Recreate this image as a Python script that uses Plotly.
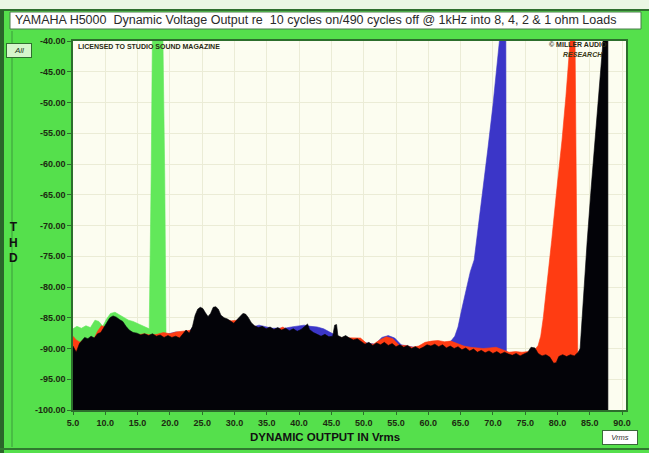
import plotly.graph_objects as go

# ---- data -------------------------------------------------------------
TITLE = ("YAMAHA H5000  Dynamic Voltage Output re  10 cycles on/490 cycles off "
         "@ 1kHz into 8, 4, 2 & 1 ohm Loads")
X_TITLE = "DYNAMIC OUTPUT IN Vrms"

X_TICKS = [5, 10, 15, 20, 25, 30, 35, 40, 45, 50, 55, 60, 65, 70, 75, 80, 85, 90]
Y_TICKS = [-100, -95, -90, -85, -80, -75, -70, -65, -60, -55, -50, -45, -40]
Y_FLOOR = -100

# 1 ohm load (green)
green_x = [5.0, 5.6, 6.3, 7.0, 7.7, 8.4, 9.0, 9.6, 10.2, 10.8, 11.5, 12.2, 12.9,
           13.6, 14.3, 15.0, 15.7, 16.4, 16.8, 17.1, 17.3, 18.9, 19.2, 19.4]
green_y = [-86.8, -86.4, -86.7, -86.3, -86.6, -85.4, -85.6, -86.4, -85.2, -84.3,
           -84.1, -84.5, -85.0, -85.4, -85.6, -85.9, -86.2, -86.5, -86.8, -62.0,
           -38.0, -38.0, -62.0, -88.0]

# 2 ohm load (blue)
blue_x = [5.0, 6.0, 7.0, 8.0, 9.0, 10.0, 11.0, 12.0, 13.0, 14.0, 15.0, 16.0, 17.0,
          18.0, 19.0, 20.0, 21.0, 22.0, 23.0, 24.0, 25.0, 26.0, 27.0, 28.0, 29.0,
          30.0, 31.0, 32.0, 32.8, 33.8, 34.8, 35.8, 36.8, 37.8, 38.8, 39.8, 40.8,
          41.8, 42.8, 43.8, 44.8, 45.8, 46.8, 47.8, 48.8, 49.8, 50.8, 51.8, 52.8,
          53.8, 54.8, 55.8, 56.8, 57.8, 58.8, 59.8, 60.8, 61.8, 62.8, 63.5, 64.1,
          64.6, 65.2, 65.9, 66.5, 67.1, 68.2, 69.2, 70.0, 70.8, 71.2, 72.0, 72.1]
blue_y = [-89.5, -89.2, -88.6, -88.5, -87.8, -87.0, -85.8, -85.6, -86.6, -87.4,
          -87.8, -87.8, -88.0, -88.0, -87.8, -87.6, -87.3, -87.4, -87.2, -86.0,
          -85.0, -85.0, -85.0, -85.4, -85.8, -86.0, -85.2, -85.4, -86.5, -86.2,
          -86.5, -86.7, -86.7, -86.7, -86.5, -86.3, -86.2, -86.4, -86.5, -86.8,
          -87.4, -88.0, -88.5, -88.6, -88.7, -89.0, -89.2, -89.3, -88.2, -87.9,
          -88.3, -89.4, -89.6, -89.8, -89.7, -89.6, -89.3, -89.4, -89.1, -88.8,
          -88.0, -86.5, -83.5, -80.0, -77.5, -75.6, -66.5, -57.7, -50.5, -43.0,
          -38.0, -38.0, -91.0]

# 4 ohm load (red)
red_x = [5.0, 5.5, 6.1, 6.8, 7.5, 8.2, 8.8, 9.4, 10.0, 10.6, 11.3, 12.0, 13.0,
         14.0, 15.0, 16.0, 17.0, 18.0, 19.0, 20.0, 21.0, 21.8, 22.5, 23.5, 24.5,
         25.5, 26.5, 27.5, 28.5, 29.5, 30.5, 31.5, 32.5, 33.5, 34.5, 35.5, 36.5,
         37.5, 38.5, 39.5, 40.5, 41.5, 42.5, 43.5, 44.5, 45.5, 46.5, 47.5, 48.5,
         49.5, 50.5, 51.5, 52.5, 53.5, 54.5, 55.5, 56.5, 57.5, 58.5, 59.5, 60.5,
         61.5, 62.5, 63.5, 64.5, 65.5, 66.5, 67.5, 68.5, 69.5, 70.5, 71.5, 72.5,
         73.5, 74.5, 75.5, 76.5, 77.0, 77.4, 77.8, 78.4, 79.1, 79.9, 80.7, 81.3,
         81.8, 82.1, 82.7, 83.2]
red_y = [-88.0, -88.6, -89.0, -88.4, -88.8, -88.5, -87.2, -86.3, -86.5, -86.0,
         -85.8, -86.2, -87.0, -87.5, -87.8, -87.6, -87.8, -87.7, -87.4, -87.6,
         -87.3, -87.2, -87.2, -87.0, -86.0, -85.5, -85.3, -85.0, -85.3, -85.5,
         -85.4, -85.2, -86.0, -86.6, -86.8, -86.9, -87.0, -86.5, -87.3, -87.4,
         -87.4, -87.5, -87.8, -88.1, -88.2, -88.2, -88.3, -88.2, -88.3, -88.3,
         -89.2, -89.3, -88.6, -88.1, -88.4, -89.5, -89.5, -89.8, -89.6, -89.0,
         -88.8, -88.7, -88.9, -88.8, -89.2, -89.6, -89.8, -89.9, -90.0, -89.9,
         -89.8, -90.2, -90.6, -90.5, -90.6, -90.5, -90.2, -89.5, -88.0, -85.0,
         -79.5, -72.4, -64.0, -56.1, -49.0, -43.1, -38.0, -38.0, -91.0]

# 8 ohm load (black)
black_x = [5.0, 5.5, 6.0, 6.8, 7.3, 7.8, 8.3, 8.8, 9.3, 9.8, 10.3, 10.7, 11.2,
           11.7, 12.2, 12.7, 13.2, 13.7, 14.3, 14.9, 15.5, 16.1, 16.7, 17.3, 17.9,
           18.5, 19.1, 19.7, 20.3, 20.9, 21.5, 22.0, 22.5, 23.0, 23.5, 23.9, 24.3,
           24.7, 25.1, 25.5, 25.9, 26.3, 26.7, 27.1, 27.5, 27.9, 28.4, 28.9, 29.4,
           29.9, 30.4, 30.9, 31.3, 31.7, 32.1, 32.6, 33.1, 33.7, 34.3, 34.9, 35.5,
           36.1, 36.7, 37.3, 37.9, 38.5, 39.1, 39.7, 40.3, 40.9, 41.3, 41.6, 42.2,
           42.8, 43.4, 44.0, 44.6, 45.2, 45.5, 45.8, 46.0, 46.6, 47.2, 47.8, 48.4,
           49.0, 49.6, 50.2, 50.8, 51.4, 52.0, 52.6, 53.2, 53.8, 54.4, 55.0, 55.6,
           56.2, 56.8, 57.4, 58.0, 58.6, 59.2, 59.8, 60.4, 61.0, 61.6, 62.2, 62.8,
           63.4, 64.0, 64.6, 65.2, 65.8, 66.4, 67.0, 67.6, 68.2, 68.8, 69.4, 70.0,
           70.6, 71.2, 71.8, 72.4, 73.0, 73.6, 74.2, 74.8, 75.4, 75.9, 76.5, 77.0,
           77.6, 78.2, 78.8, 79.4, 79.8, 80.2, 80.8, 81.4, 82.0, 82.6, 83.2, 83.5,
           84.0, 84.6, 85.2, 85.8, 86.4, 86.9, 87.2, 87.8]
black_y = [-89.6, -90.6, -89.2, -88.2, -88.4, -88.0, -88.3, -87.6, -87.4, -86.6,
           -85.6, -85.0, -84.7, -84.9, -85.3, -85.6, -86.4, -87.0, -87.4, -87.5,
           -87.8, -87.6, -87.9, -87.6, -88.0, -87.8, -88.2, -87.9, -88.2, -88.0,
           -88.3, -87.6, -87.0, -87.5, -86.4, -84.6, -83.6, -83.3, -83.5, -84.2,
           -84.8, -84.3, -83.3, -83.2, -83.6, -84.6, -85.0, -85.2, -85.6, -85.9,
           -85.3, -84.8, -84.3, -84.4, -84.9, -85.8, -86.3, -86.6, -86.4, -86.8,
           -86.5, -86.9, -86.6, -87.0, -86.7, -87.1, -86.8, -87.2, -86.9, -86.4,
           -86.0, -86.9, -87.4, -87.7, -88.0, -87.7, -88.1, -88.0, -86.2, -86.1,
           -87.9, -88.2, -87.9, -88.3, -88.6, -88.4, -88.9, -89.3, -89.0, -89.5,
           -89.1, -89.4, -89.0, -89.5, -89.2, -89.7, -89.4, -89.8, -89.5, -90.0,
           -89.7, -90.1, -89.8, -89.4, -89.6, -89.3, -89.7, -89.4, -89.9, -89.6,
           -90.0, -89.7, -90.2, -89.9, -90.4, -90.1, -90.6, -90.3, -90.7, -90.4,
           -90.8, -90.5, -90.9, -90.6, -90.9, -91.1, -90.8, -91.2, -90.9, -90.6,
           -89.8, -89.9, -90.8, -91.2, -91.0, -91.4, -92.4, -92.3, -91.3, -91.0,
           -91.3, -91.0, -91.2, -90.6, -90.0, -81.5, -72.4, -64.0, -56.1, -49.0,
           -43.0, -38.0, -38.0]

SERIES = [
    ("1 ohm", green_x, green_y, "#62e85a"),
    ("2 ohm", blue_x, blue_y, "#3b36c8"),
    ("4 ohm", red_x, red_y, "#ff3c12"),
    ("8 ohm", black_x, black_y, "#030308"),
]

# ---- page geometry (pixels) ---------------------------------------------
W_PX, H_PX = 649, 453
L, R, T, B = 73, 626, 41, 410
PW, PH = R - L, B - T

BG_GREEN = "#55e04c"
FRAME = "#2c6e2c"
LABEL = "#1c2a10"


def fx(p):
    return (p - L) / PW


def fy(p):
    return (B - p) / PH


fig = go.Figure()
for name, xs, ys, color in SERIES:
    fig.add_trace(go.Scatter(
        x=xs + [xs[-1], xs[0]],
        y=ys + [Y_FLOOR, Y_FLOOR],
        name=name, mode="lines", fill="toself", fillcolor=color,
        line=dict(color=color, width=0.6),
        hoverinfo="skip", showlegend=False,
    ))

tick_font = dict(family="Liberation Sans", size=9, color=LABEL, weight="bold")

fig.update_layout(
    width=W_PX, height=H_PX,
    margin=dict(l=L, r=W_PX - R, t=T, b=H_PX - B),
    paper_bgcolor=BG_GREEN,
    plot_bgcolor="#fcfdf0",
    showlegend=False,
    xaxis=dict(
        range=[5, 90.6], tickvals=X_TICKS,
        ticktext=[f"{v:.1f}" for v in X_TICKS],
        showgrid=True, gridcolor="#ebecd6", gridwidth=1, zeroline=False,
        showline=True, mirror=True, linecolor=FRAME, linewidth=1.5,
        ticks="outside", ticklen=3, tickcolor=FRAME, tickfont=tick_font,
    ),
    yaxis=dict(
        range=[Y_FLOOR, -40], tickvals=Y_TICKS,
        ticktext=[f"{v:.2f}" for v in Y_TICKS],
        showgrid=True, gridcolor="#ebecd6", gridwidth=1, zeroline=False,
        showline=True, mirror=True, linecolor=FRAME, linewidth=1.5,
        ticks="outside", ticklen=4, tickcolor=FRAME, tickfont=tick_font,
    ),
)

shapes = [
    # pale strip along the top edge and dark rule under it
    dict(type="rect", xref="paper", yref="paper", x0=fx(0), x1=fx(W_PX),
         y0=fy(9), y1=fy(0), fillcolor="#eaf7e4", line=dict(width=0)),
    dict(type="line", xref="paper", yref="paper", x0=fx(0), x1=fx(W_PX),
         y0=fy(10), y1=fy(10), line=dict(color="#2f6f2f", width=2)),
    # title bar
    dict(type="rect", xref="paper", yref="paper", x0=fx(10), x1=fx(641),
         y0=fy(29), y1=fy(12), fillcolor="#ffffff",
         line=dict(color="#4a7a4a", width=1)),
    # left and bottom frame edges
    dict(type="rect", xref="paper", yref="paper", x0=fx(0), x1=fx(4),
         y0=fy(H_PX), y1=fy(10), fillcolor="#2a662a", line=dict(width=0)),
    dict(type="line", xref="paper", yref="paper", x0=fx(12), x1=fx(12),
         y0=fy(447), y1=fy(31), line=dict(color="#3c9a3c", width=1)),
    dict(type="line", xref="paper", yref="paper", x0=fx(0), x1=fx(W_PX),
         y0=fy(449), y1=fy(449), line=dict(color="#2f7a2f", width=2)),
]
fig.update_layout(shapes=shapes)

annotations = [
    dict(text=TITLE, x=fx(13), y=fy(20.5), xanchor="left", yanchor="middle",
         font=dict(family="Liberation Sans", size=12.5, color="#2a2a2a")),
    dict(text=X_TITLE, x=fx(325), y=fy(437), xanchor="center", yanchor="middle",
         font=dict(family="Liberation Sans", size=11.5, color="#111111",
                   weight="bold")),
    dict(text="T<br>H<br>D", x=fx(13), y=fy(242), xanchor="center",
         yanchor="middle",
         font=dict(family="Liberation Sans", size=12, color="#111111",
                   weight="bold")),
    dict(text="<i>All</i>", x=fx(19), y=fy(50), xanchor="center",
         yanchor="middle", bgcolor="#d6f6cc", bordercolor="#2f6f2f",
         borderwidth=1, borderpad=2, width=20,
         font=dict(family="Liberation Sans", size=8, color="#1a3a1a")),
    dict(text="<i>Vrms</i>", x=fx(620), y=fy(437), xanchor="center",
         yanchor="middle", bgcolor="#ffffff", bordercolor="#3a6a3a",
         borderwidth=1, borderpad=2, width=30,
         font=dict(family="Liberation Sans", size=7.5, color="#333333")),
    dict(text="LICENSED TO STUDIO SOUND MAGAZINE", x=fx(76), y=fy(47),
         xanchor="left", yanchor="middle",
         font=dict(family="Liberation Sans", size=7, color="#2a2a14",
                   weight="bold")),
    dict(text="© MILLER AUDIO", x=fx(609), y=fy(45), xanchor="right",
         yanchor="middle",
         font=dict(family="Liberation Sans", size=7, color="#2a2a14",
                   weight="bold")),
    dict(text="<i>RESEARCH</i>", x=fx(605), y=fy(55), xanchor="right",
         yanchor="middle",
         font=dict(family="Liberation Sans", size=7, color="#3a3a18",
                   weight="bold")),
]
for a in annotations:
    a.update(xref="paper", yref="paper", showarrow=False)
fig.update_layout(annotations=annotations)

fig.write_html("out.html")
